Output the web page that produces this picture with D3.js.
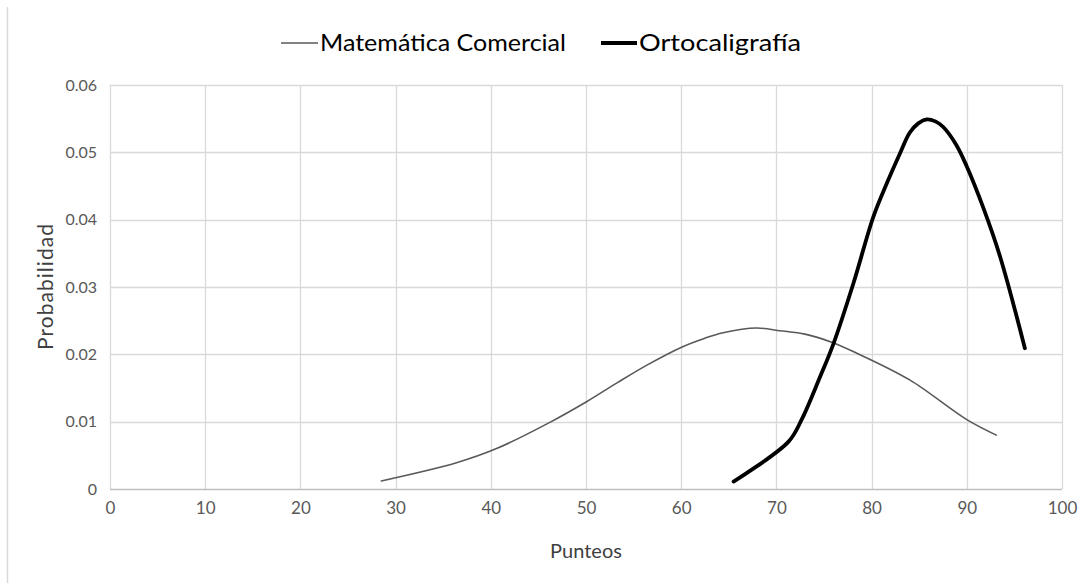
<!DOCTYPE html>
<html>
<head>
<meta charset="utf-8">
<script src="https://cdn.jsdelivr.net/npm/d3@7"></script>
<style>
  html, body { margin: 0; padding: 0; background: #fff; }
  svg { display: block; font-family: Lato, "Open Sans", sans-serif; }
</style>
</head>
<body>
<svg id="chart" width="1090" height="583"></svg>
<script>
// Series: score (Punteos) against probability density
const seriesNames = ["Matemática Comercial", "Ortocaligrafía"];

const comercialX = [28.5, 36.4, 40.6, 46.2, 50.1, 53.3, 56.4, 60.1, 62.5, 64.4, 67.9, 70.4, 73.0, 75.8, 78.4, 84.0, 90.0, 93.1];
const comercialY = [0.0012, 0.0039, 0.0060, 0.0099, 0.0130, 0.0158, 0.0184, 0.0211, 0.0224, 0.0232, 0.0239, 0.0235, 0.0230, 0.0218, 0.0202, 0.0162, 0.0103, 0.0080];

const ortoX = [65.5, 71.25, 72.65, 74.6, 76.0, 78.1, 80.2, 81.6, 83.0, 84.0, 84.9, 85.8, 86.7, 87.5, 88.9, 90.0, 91.7, 93.5, 96.1];
const ortoY = [0.0011, 0.0070, 0.0103, 0.0167, 0.0216, 0.0306, 0.0405, 0.0454, 0.0499, 0.0529, 0.0543, 0.0549, 0.0546, 0.0538, 0.0511, 0.0479, 0.0419, 0.0345, 0.0209];

const xTicks = [0, 10, 20, 30, 40, 50, 60, 70, 80, 90, 100];
const yTicks = [0, 0.01, 0.02, 0.03, 0.04, 0.05, 0.06];

const xTitle = "Punteos";
const yTitle = "Probabilidad";

const svg = d3.select("#chart");
const margin = { left: 110, right: 28, top: 85, bottom: 94 };
const W = 1090, H = 583;

const x = d3.scaleLinear().domain([0, 100]).range([margin.left, W - margin.right]);
const y = d3.scaleLinear().domain([0, 0.06]).range([H - margin.bottom, margin.top]);

const gridColor = "#d9d9d9";
const textColor = "#595959";

// outer frame edge on the left
svg.append("line")
  .attr("x1", 7.5).attr("x2", 7.5).attr("y1", 7).attr("y2", 583)
  .attr("stroke", gridColor).attr("stroke-width", 1.5);

// horizontal gridlines
svg.append("g")
  .selectAll("line")
  .data(yTicks.filter(d => d > 0))
  .join("line")
  .attr("x1", x(0)).attr("x2", x(100))
  .attr("y1", d => Math.round(y(d)) + 0.5).attr("y2", d => Math.round(y(d)) + 0.5)
  .attr("stroke", gridColor).attr("stroke-width", 1.3);

// vertical gridlines
svg.append("g")
  .selectAll("line")
  .data(xTicks)
  .join("line")
  .attr("x1", d => Math.round(x(d)) + 0.5).attr("x2", d => Math.round(x(d)) + 0.5)
  .attr("y1", y(0.06)).attr("y2", y(0))
  .attr("stroke", gridColor).attr("stroke-width", 1.3);

// x axis baseline
svg.append("line")
  .attr("x1", x(0)).attr("x2", x(100))
  .attr("y1", Math.round(y(0)) + 0.5).attr("y2", Math.round(y(0)) + 0.5)
  .attr("stroke", "#bfbfbf").attr("stroke-width", 1.3);

// axis tick labels via d3 axes
const xAxis = d3.axisBottom(x).tickValues(xTicks).tickSize(0).tickPadding(13).tickFormat(d3.format("d"));
const gx = svg.append("g").attr("transform", `translate(0,${y(0)})`).call(xAxis);
gx.select(".domain").remove();
gx.selectAll("text").attr("fill", textColor).style("font-size", "17px").style("font-family", "Lato, sans-serif");

const yAxis = d3.axisLeft(y).tickValues(yTicks).tickSize(0).tickPadding(13)
  .tickFormat(d => d === 0 ? "0" : d3.format(".2f")(d));
const gy = svg.append("g").attr("transform", `translate(${x(0)},0)`).call(yAxis);
gy.select(".domain").remove();
gy.selectAll("text").attr("fill", textColor).style("font-size", "16px").style("font-family", "Lato, sans-serif");

// axis titles
svg.append("text")
  .attr("x", (x(0) + x(100)) / 2).attr("y", 558)
  .attr("text-anchor", "middle")
  .attr("fill", "#404040").style("font-size", "20px")
  .text(xTitle);

svg.append("text")
  .attr("transform", `translate(53,${(y(0) + y(0.06)) / 2}) rotate(-90)`)
  .attr("text-anchor", "middle")
  .attr("fill", "#404040").style("font-size", "21px")
  .attr("textLength", 126).attr("lengthAdjust", "spacing")
  .text(yTitle);

// smoothed curves through the observed points
const line = d3.line().x(d => x(d[0])).y(d => y(d[1])).curve(d3.curveCatmullRom.alpha(0.5));

const comercial = comercialX.map((v, i) => [v, comercialY[i]]);
const orto = ortoX.map((v, i) => [v, ortoY[i]]);

svg.append("path")
  .datum(comercial)
  .attr("d", line)
  .attr("fill", "none").attr("stroke", "#595959").attr("stroke-width", 1.6)
  .attr("stroke-linejoin", "round").attr("stroke-linecap", "round");

svg.append("path")
  .datum(orto)
  .attr("d", line)
  .attr("fill", "none").attr("stroke", "#000").attr("stroke-width", 3.8)
  .attr("stroke-linejoin", "round").attr("stroke-linecap", "round");

// legend
const legend = [
  { name: seriesNames[0], x0: 281, x1: 318, color: "#595959", w: 1.6, len: 246 },
  { name: seriesNames[1], x0: 601, x1: 637, color: "#000", w: 3.8, len: 162 }
];
const lg = svg.append("g");
legend.forEach(l => {
  lg.append("line")
    .attr("x1", l.x0).attr("x2", l.x1).attr("y1", 43).attr("y2", 43)
    .attr("stroke", l.color).attr("stroke-width", l.w);
  lg.append("text")
    .attr("x", l.x1 + 2).attr("y", 51)
    .attr("fill", "#000").style("font-size", "24px")
    .attr("textLength", l.len).attr("lengthAdjust", "spacingAndGlyphs")
    .text(l.name);
});
</script>
</body>
</html>
